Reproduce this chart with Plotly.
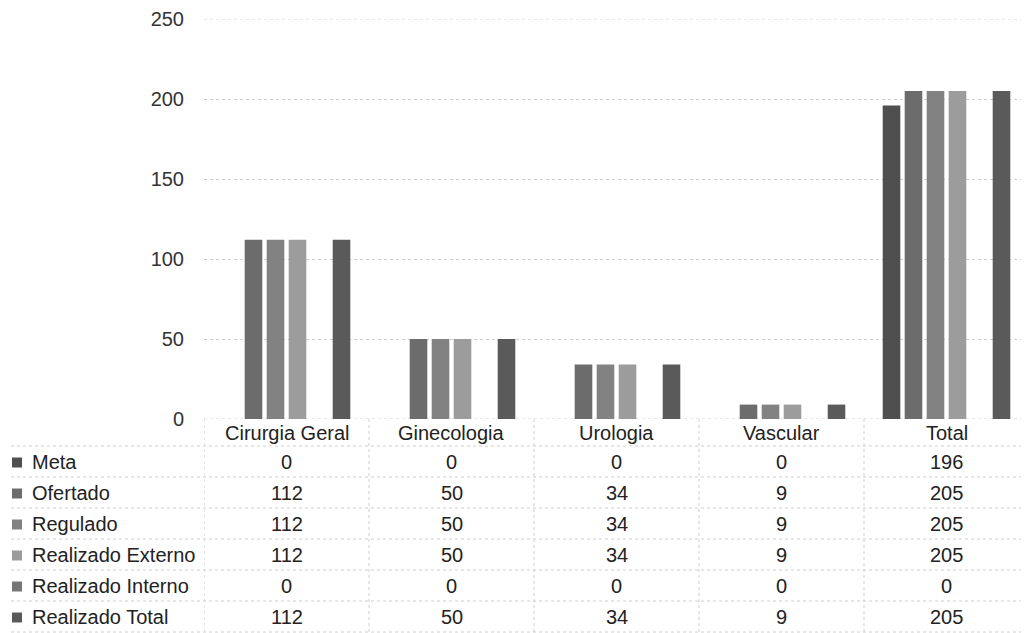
import plotly.graph_objects as go

categories = ["Cirurgia Geral", "Ginecologia", "Urologia", "Vascular", "Total"]
series_names = ["Meta", "Ofertado", "Regulado", "Realizado Externo", "Realizado Interno", "Realizado Total"]
meta = [0, 0, 0, 0, 196]
ofertado = [112, 50, 34, 9, 205]
regulado = [112, 50, 34, 9, 205]
realizado_externo = [112, 50, 34, 9, 205]
realizado_interno = [0, 0, 0, 0, 0]
realizado_total = [112, 50, 34, 9, 205]
y_ticks = [0, 50, 100, 150, 200, 250]

series_values = [meta, ofertado, regulado, realizado_externo, realizado_interno, realizado_total]
colors = ["#4f4f4f", "#6c6c6c", "#828282", "#9c9c9c", "#767676", "#5a5a5a"]

# the page body has an 8px margin, so the figure is drawn offset by (8, 8)
OFF = 8
W, H = 1029 - OFF, 633 - OFF
# plot area in page pixels
PL, PT, PR, PB = 204, 19, 1029, 419
plot_h = PB - PT
plot_w = PR - PL

def py(p):  # page pixel y -> paper y
    return (PB - p) / plot_h

def px(p):  # page pixel x -> paper x
    return (p - PL) / plot_w

fig = go.Figure()
for name, vals, c in zip(series_names, series_values, colors):
    fig.add_trace(go.Bar(x=categories, y=vals, name=name, marker=dict(color=c, line=dict(width=0))))

FONT = "Liberation Sans, Arial, sans-serif"
fs = 20
grid_col = "#cfcfcf"
txt_col = "#222222"

header_bottom = 446
row_h = 31.0

shapes = []
annotations = []

# header labels
for cat in categories:
    annotations.append(dict(x=cat, xref="x", y=py((PB + header_bottom) / 2 + 1), yref="paper",
                            text=cat, showarrow=False, font=dict(family=FONT, size=fs, color=txt_col),
                            xanchor="center", yanchor="middle"))

# rows
for i, (name, vals, c) in enumerate(zip(series_names, series_values, colors)):
    cy = header_bottom + row_h * (i + 0.5)
    shapes.append(dict(type="rect", xref="paper", yref="paper", x0=px(12), x1=px(22),
                       y0=py(cy - 4), y1=py(cy + 6), fillcolor=c, line=dict(width=0)))
    annotations.append(dict(x=px(30), xref="paper", y=py(cy), yref="paper", text=name,
                            showarrow=False, font=dict(family=FONT, size=fs, color=txt_col),
                            xanchor="left", yanchor="middle"))
    for cat, v in zip(categories, vals):
        annotations.append(dict(x=cat, xref="x", y=py(cy), yref="paper", text=str(v),
                                showarrow=False, font=dict(family=FONT, size=fs, color=txt_col),
                                xanchor="center", yanchor="middle"))

line_style = dict(color=grid_col, width=1, dash="dot")
# top and bottom edges of the value range (grid at the range ends)
for yv in (y_ticks[0], y_ticks[-1]):
    shapes.append(dict(type="line", xref="paper", yref="y", x0=0, x1=1, y0=yv, y1=yv,
                       line=line_style, layer="below"))
# horizontal row lines
for i in range(7):
    yy = header_bottom + row_h * i
    shapes.append(dict(type="line", xref="paper", yref="paper", x0=px(5), x1=1,
                       y0=py(yy), y1=py(yy), line=line_style))
# vertical lines at category boundaries
for k in range(len(categories) + 1):
    shapes.append(dict(type="line", xref="x", yref="paper", x0=k - 0.5, x1=k - 0.5,
                       y0=0, y1=py(640), line=line_style))
# left border of label column
shapes.append(dict(type="line", xref="paper", yref="paper", x0=px(5), x1=px(5),
                   y0=py(header_bottom), y1=py(640), line=line_style))

fig.update_layout(
    width=W, height=H,
    margin=dict(l=PL - OFF, r=W - (PR - OFF), t=PT - OFF, b=H - (PB - OFF), pad=0, autoexpand=False),
    paper_bgcolor="white", plot_bgcolor="white",
    barmode="group", bargap=0.2, bargroupgap=0.2,
    showlegend=False,
    font=dict(family=FONT, size=fs, color="#333"),
    xaxis=dict(type="category", range=[-0.5, len(categories) - 0.5], showticklabels=False,
               showgrid=False, zeroline=False, showline=False, ticks="", automargin=False),
    yaxis=dict(range=[0, 250], tickvals=y_ticks, showgrid=True, gridcolor=grid_col,
               griddash="dot", gridwidth=1, zeroline=False, showline=False, automargin=False,
               tickfont=dict(family=FONT, size=fs, color="#333"), ticklabelstandoff=19),
    shapes=shapes, annotations=annotations,
)

fig.write_html("out.html")
